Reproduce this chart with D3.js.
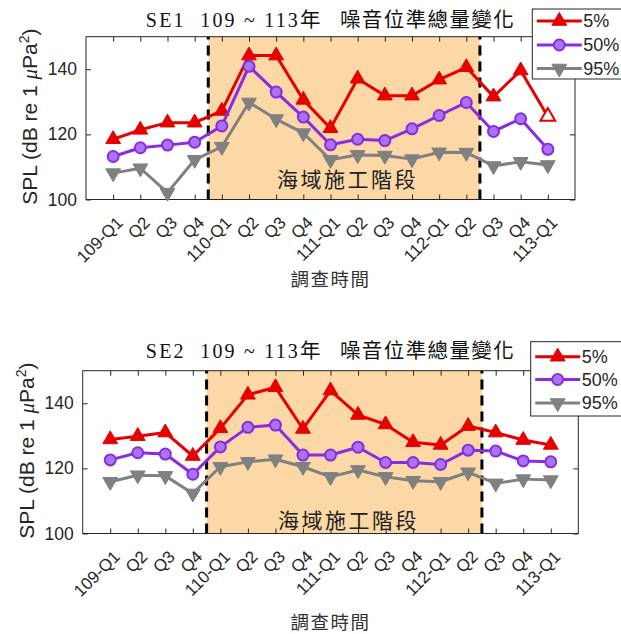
<!DOCTYPE html>
<html><head><meta charset="utf-8">
<script src="https://cdn.jsdelivr.net/npm/d3@7"></script>
<style>
html,body{margin:0;padding:0;background:#fff;}
svg{display:block;}
</style></head>
<body>
<script>
const quarters = ["109-Q1","Q2","Q3","Q4","110-Q1","Q2","Q3","Q4","111-Q1","Q2","Q3","Q4","112-Q1","Q2","Q3","Q4","113-Q1"];
const seriesNames = ["5%","50%","95%"];
const yTicks = [100,120,140];
const se1_p5  = [118.5,121.4,123.6,123.6,127.2,144.2,144.2,130.6,121.9,137.1,131.9,131.9,136.8,140.6,131.6,139.6,125.5];
const se1_p50 = [113.2,115.9,116.7,117.6,122.6,140.9,133.0,125.3,116.8,118.5,118.1,121.7,125.8,129.8,120.9,124.8,115.4];
const se1_p95 = [108.1,109.6,102.1,112.2,116.2,129.8,124.7,120.4,112.2,113.7,113.5,112.4,114.5,114.4,110.3,111.6,110.6];
const se2_p5  = [128.9,129.9,131.0,123.8,132.3,142.6,144.9,132.1,143.9,136.4,133.5,128.0,127.2,133.0,131.0,128.7,127.2];
const se2_p50 = [122.6,124.8,124.4,118.2,126.6,132.6,133.3,124.1,124.1,126.5,121.8,121.8,121.2,125.6,125.3,122.3,122.0];
const se2_p95 = [115.9,117.9,117.7,112.3,120.5,122.0,122.8,120.5,117.4,119.5,117.4,116.2,115.9,118.8,115.4,116.7,116.4];
const constructionStart = 4.5, constructionEnd = 14.5;
const phaseLabel = "海域施工階段";
const xLabel = "調查時間";

const colors = ["#e60000","#8a2be2","#808080"];
const W = 621, H = 634;
const svg = d3.select("body").append("svg").attr("width", W).attr("height", H)
  .style("font-family","'Liberation Sans', Arial, sans-serif");

function drawChart(cfg){
  const x = d3.scaleLinear().domain([0, quarters.length+1]).range([cfg.left, cfg.right]);
  const y = d3.scaleLinear().domain([100,150]).range([cfg.bottom, cfg.top]);
  const g = svg.append("g");
  // shaded construction period
  g.append("rect").attr("x", x(constructionStart)).attr("y", y(150))
    .attr("width", x(constructionEnd)-x(constructionStart)).attr("height", y(100)-y(150))
    .attr("fill","#fbd8a5");
  // phase label
  g.append("text").attr("x", x(cfg.labelPos[0])).attr("y", y(cfg.labelPos[1]))
    .attr("text-anchor","middle").attr("dominant-baseline","central")
    .style("font-family","'Noto Sans CJK TC', sans-serif").style("font-size","21px")
    .style("letter-spacing","2.5px").attr("fill","#222").text(phaseLabel);
  // dashed lines
  [constructionStart, constructionEnd].forEach(v=>{
    g.append("line").attr("x1",x(v)).attr("x2",x(v)).attr("y1",y(100)).attr("y2",y(150))
      .attr("stroke","#000").attr("stroke-width",3).attr("stroke-dasharray","10,6");
  });
  // axes
  const ax = d3.axisBottom(x).tickValues(d3.range(1, quarters.length+1)).tickSizeInner(-5).tickSizeOuter(0)
     .tickFormat(i => quarters[i-1]);
  const xa = g.append("g").attr("transform",`translate(0,${cfg.bottom})`).call(ax);
  xa.select(".domain").remove();
  xa.selectAll("text").attr("x",0).attr("y",0).attr("dy","0.35em")
    .attr("text-anchor","end").attr("transform","translate(6,20) rotate(-45)")
    .style("font-size","17px").attr("fill","#262626");
  const axTop = d3.axisTop(x).tickValues(d3.range(1, quarters.length+1)).tickSizeInner(-5).tickSizeOuter(0).tickFormat("");
  const xt = g.append("g").attr("transform",`translate(0,${cfg.top})`).call(axTop);
  xt.select(".domain").remove();
  const ay = d3.axisLeft(y).tickValues(yTicks).tickSizeInner(-5).tickSizeOuter(0).tickPadding(9);
  const ya = g.append("g").attr("transform",`translate(${cfg.left},0)`).call(ay);
  ya.select(".domain").remove();
  ya.selectAll("text").style("font-size","17.5px").attr("fill","#262626");
  const ayr = d3.axisRight(y).tickValues(yTicks).tickSizeInner(-5).tickSizeOuter(0).tickFormat("");
  const yr = g.append("g").attr("transform",`translate(${cfg.right},0)`).call(ayr);
  yr.select(".domain").remove();
  g.selectAll(".tick line").attr("stroke","#262626");
  // box
  g.append("rect").attr("x",cfg.left).attr("y",cfg.top).attr("width",cfg.right-cfg.left)
    .attr("height",cfg.bottom-cfg.top).attr("fill","none").attr("stroke","#262626").attr("stroke-width",1);

  // series
  const line = d3.line().x((d,i)=>x(i+1)).y(d=>y(d));
  const sym = [d3.symbol().type(d3.symbolTriangle).size(95),
               null,
               d3.symbol().type(d3.symbolTriangle).size(95)];
  cfg.series.forEach((vals,si)=>{
    g.append("path").datum(vals).attr("d",line).attr("fill","none")
      .attr("stroke",colors[si]).attr("stroke-width",3).attr("stroke-linejoin","round");
    const mg = g.append("g");
    vals.forEach((v,i)=>{
      if(si===1){
        mg.append("circle").attr("cx",x(i+1)).attr("cy",y(v)).attr("r",5.5)
          .attr("fill","#a874f5").attr("stroke",colors[1]).attr("stroke-width",2);
      } else {
        const open = cfg.openMarkers && cfg.openMarkers[si] && cfg.openMarkers[si].includes(i);
        mg.append("path").attr("d",sym[si]())
          .attr("transform",`translate(${x(i+1)},${y(v)})${si===2?" rotate(180)":""}`)
          .attr("fill", open ? "#fff" : colors[si]).attr("stroke",colors[si]).attr("stroke-width",open?2:1);
      }
    });
  });

  // title
  const tcx = (cfg.left+cfg.right)/2;
  const t = g.append("text").attr("x", tcx).attr("y", cfg.titleY).attr("text-anchor","middle").attr("fill","#111");
  t.append("tspan").style("font-family","'Liberation Serif', serif").style("font-size","20px")
    .style("letter-spacing","2.2px").text(cfg.station + "\u00a0\u00a0109\u00a0~\u00a0113");
  t.append("tspan").style("font-family","'Noto Sans CJK TC', sans-serif").style("font-size","20.5px")
    .style("letter-spacing","1.4px").text("年\u00a0\u00a0\u00a0噪音位準總量變化");

  // y label
  const yl = g.append("text").attr("transform",`translate(${cfg.left-49},${(cfg.top+cfg.bottom)/2-1.5}) rotate(-90)`)
    .attr("text-anchor","middle").style("font-size","21px").attr("fill","#262626");
  yl.append("tspan").text("SPL (dB re 1 ");
  yl.append("tspan").style("font-family","'Liberation Serif', serif").style("font-style","italic").text("μ");
  yl.append("tspan").text("Pa");
  yl.append("tspan").attr("dy","-8").style("font-size","14px").text("2");
  yl.append("tspan").attr("dy","8").text(")");

  // x label
  g.append("text").attr("x", tcx).attr("y", cfg.xLabelY).attr("text-anchor","middle")
    .attr("dominant-baseline","central")
    .style("font-family","'Noto Sans CJK TC', sans-serif").style("font-size","18.5px")
    .style("letter-spacing","1.5px").attr("fill","#333").text(xLabel);

  // legend
  const L = cfg.legend;
  g.append("rect").attr("x",L.x).attr("y",L.y).attr("width",W+10-L.x).attr("height",L.h)
    .attr("fill","#fff").attr("stroke","#262626").attr("stroke-width",1);
  seriesNames.forEach((name,si)=>{
    const ry = L.rows[si];
    g.append("line").attr("x1",L.x+4.5).attr("x2",L.x+49.5).attr("y1",ry).attr("y2",ry)
      .attr("stroke",colors[si]).attr("stroke-width",3);
    const mx = L.x+27;
    if(si===1){
      g.append("circle").attr("cx",mx).attr("cy",ry).attr("r",5.5)
        .attr("fill","#a874f5").attr("stroke",colors[1]).attr("stroke-width",2);
    } else {
      g.append("path").attr("d",sym[si]()).attr("transform",`translate(${mx},${ry})${si===2?" rotate(180)":""}`)
        .attr("fill",colors[si]).attr("stroke",colors[si]);
    }
    g.append("text").attr("x",L.x+51).attr("y",ry).attr("dominant-baseline","central")
      .style("font-size","18px").attr("fill","#262626").text(name);
  });
}

drawChart({station:"SE1", left:86, right:575, top:36.7, bottom:199.5, titleY:26.5, xLabelY:278,
  series:[se1_p5,se1_p50,se1_p95], labelPos:[9.63,106.6], openMarkers:{0:[16]},
  legend:{x:532.3, y:9, h:70, rows:[21,45,68.5]}});
drawChart({station:"SE2", left:82.7, right:578.3, top:370.7, bottom:533.5, titleY:358.3, xLabelY:620.5,
  series:[se2_p5,se2_p50,se2_p95], labelPos:[9.65,104.5],
  legend:{x:530.7, y:341.7, h:74.3, rows:[356.7,379.5,403]}});
</script>
</body></html>
